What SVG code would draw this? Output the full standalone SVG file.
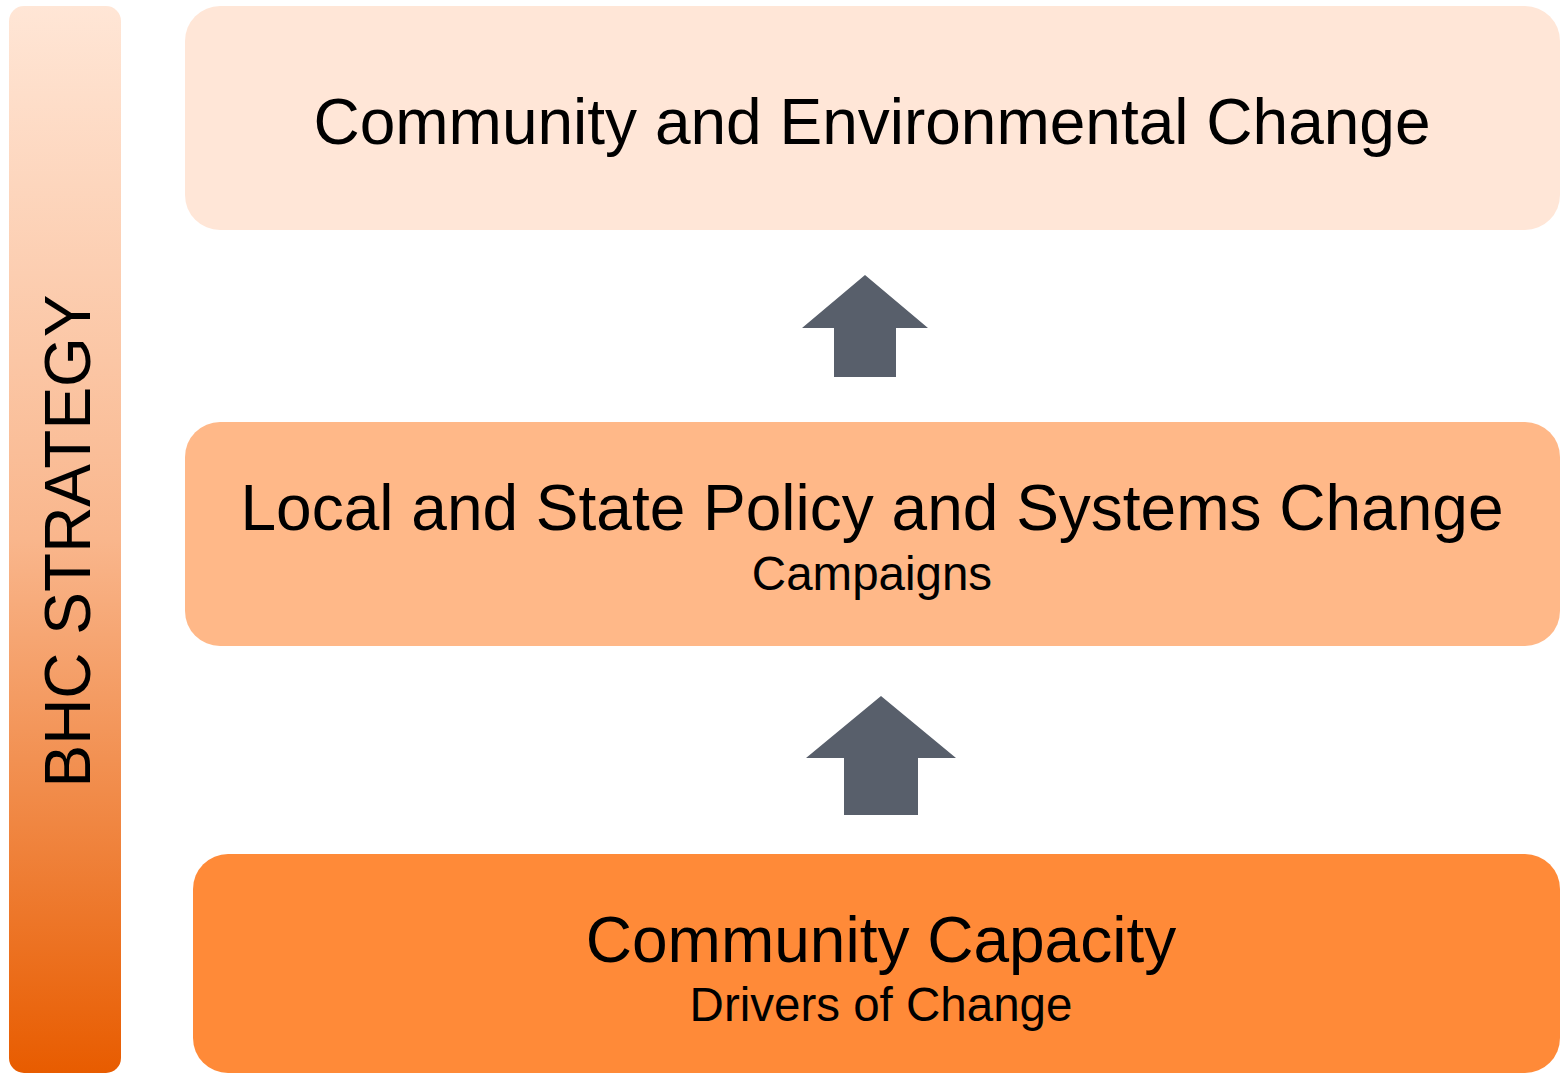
<svg xmlns="http://www.w3.org/2000/svg" width="1560" height="1074" viewBox="0 0 1560 1074">
<defs>
<linearGradient id="barGrad" x1="0" y1="0" x2="0" y2="1">
<stop offset="0" stop-color="#FFE6D6"/>
<stop offset="0.5" stop-color="#F9B68C"/>
<stop offset="1" stop-color="#E85C00"/>
</linearGradient>
<style>
.t{font-family:"Liberation Sans",Arial,sans-serif;fill:#000;text-anchor:middle}
.big{font-size:64px}
.small{font-size:47.5px}
.arrow{fill:#585F6B}
</style>
</defs>
<rect width="1560" height="1074" fill="#FFFFFF"/>
<g id="strategy-bar">
<rect x="9" y="6" width="112" height="1067" rx="15" ry="15" fill="url(#barGrad)"/>
<text class="t big" transform="translate(90,541) rotate(-90)">BHC STRATEGY</text>
</g>
<g id="node-community-env">
<rect x="185" y="6" width="1375" height="224" rx="35" ry="35" fill="#FFE6D7"/>
<text class="t big" x="872" y="144">Community and Environmental Change</text>
</g>
<g id="node-policy">
<rect x="185" y="422" width="1375" height="224" rx="35" ry="35" fill="#FFB888"/>
<text class="t big" x="872" y="530">Local and State Policy and Systems Change</text>
<text class="t small" x="872" y="590">Campaigns</text>
</g>
<g id="node-capacity">
<rect x="193" y="854" width="1367" height="219" rx="35" ry="35" fill="#FF8A38"/>
<text class="t big" x="881" y="962">Community Capacity</text>
<text class="t small" x="881" y="1021">Drivers of Change</text>
</g>
<g id="connectors">
<polygon class="arrow" points="865,275 928,328 896,328 896,377 834,377 834,328 802,328"/>
<polygon class="arrow" points="881,696 956,758 918,758 918,815 844,815 844,758 806,758"/>
</g>
</svg>
